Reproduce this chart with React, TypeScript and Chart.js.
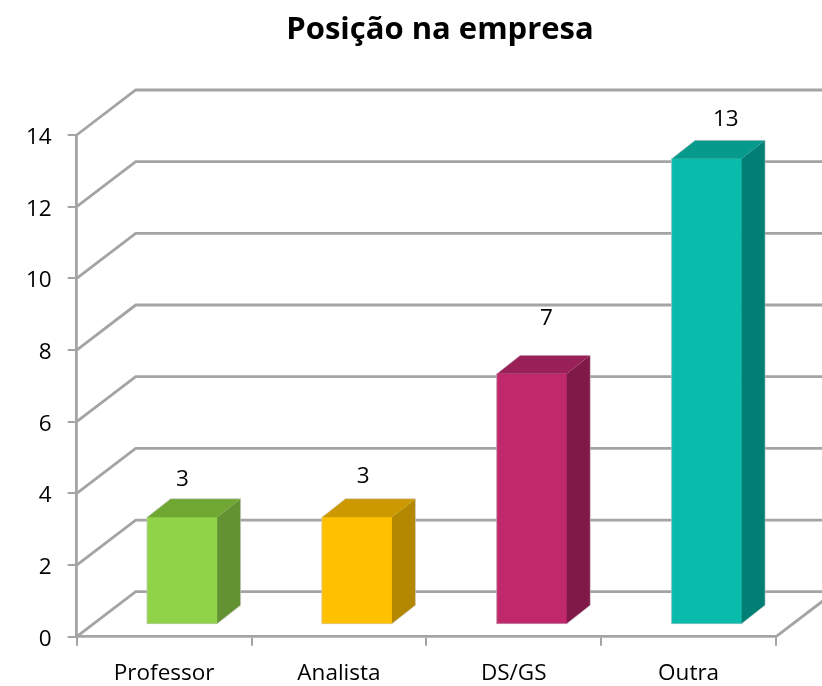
import React, { useEffect, useRef } from "react";
import { Chart, registerables } from "chart.js";

Chart.register(...registerables);

const chartTitle = "Posição na empresa";
const categories = ["Professor", "Analista", "DS/GS", "Outra"];
const seriesValues = [3, 3, 7, 13];
const frontColors = ["#90D248", "#FFC000", "#C0286C", "#09BBAB"];
const topColors = ["#70A632", "#CC9A00", "#9A2058", "#069A8C"];
const sideColors = ["#629232", "#B38700", "#801848", "#017F74"];
const yMax = 14;
const yStep = 2;

// 3D look of the Excel chart (pixels)
const WALL_DX = 59;
const WALL_DY = -45;
const BAR_SHIFT_X = 18;
const BAR_SHIFT_Y = -12;
const BAR_DX = 23.5;
const BAR_DY = -18.5;
const LABEL_NUDGE_X = [0.2, 6.2, 14.7, 19.2];
const LABEL_NUDGE_Y = [-37.2, -40.2, -55.7, -39.7];
const GRID = "#A4A4A4";
const FONT = "'Open Sans', sans-serif";

const wallPlugin = {
  id: "wall3d",
  beforeDatasetsDraw(chart: any) {
    const { ctx, scales, chartArea, width } = chart;
    const y = scales.y;
    ctx.save();
    ctx.strokeStyle = GRID;
    ctx.lineWidth = 2.8;
    for (let v = 0; v <= yMax; v += yStep) {
      const py = y.getPixelForValue(v);
      ctx.beginPath();
      ctx.moveTo(chartArea.left, py);
      ctx.lineTo(chartArea.left + WALL_DX, py + WALL_DY);
      ctx.lineTo(width, py + WALL_DY);
      ctx.stroke();
    }
    const floorY = y.getPixelForValue(0);
    ctx.beginPath();
    ctx.moveTo(chartArea.right, floorY);
    ctx.lineTo(chartArea.right + WALL_DX, floorY + WALL_DY);
    ctx.stroke();
    ctx.restore();
  },
};

const bar3dPlugin = {
  id: "bar3d",
  beforeDatasetDraw(chart: any) {
    chart.ctx.save();
    chart.ctx.translate(BAR_SHIFT_X, BAR_SHIFT_Y);
  },
  afterDatasetDraw(chart: any, args: any) {
    const { ctx } = chart;
    args.meta.data.forEach((bar: any, i: number) => {
      const l = bar.x - bar.width / 2;
      const r = bar.x + bar.width / 2;
      const t = bar.y;
      const b = bar.base;
      ctx.fillStyle = topColors[i];
      ctx.beginPath();
      ctx.moveTo(l, t);
      ctx.lineTo(l + BAR_DX, t + BAR_DY);
      ctx.lineTo(r + BAR_DX, t + BAR_DY);
      ctx.lineTo(r, t);
      ctx.closePath();
      ctx.fill();
      ctx.fillStyle = sideColors[i];
      ctx.beginPath();
      ctx.moveTo(r, t);
      ctx.lineTo(r + BAR_DX, t + BAR_DY);
      ctx.lineTo(r + BAR_DX, b + BAR_DY);
      ctx.lineTo(r, b);
      ctx.closePath();
      ctx.fill();
      ctx.strokeStyle = "rgba(205,205,205,0.6)";
      ctx.lineWidth = 1;
      ctx.beginPath();
      ctx.moveTo(l, b);
      ctx.lineTo(l, t);
      ctx.lineTo(l + BAR_DX, t + BAR_DY);
      ctx.lineTo(r + BAR_DX, t + BAR_DY);
      ctx.lineTo(r + BAR_DX, b + BAR_DY);
      ctx.lineTo(r, b);
      ctx.closePath();
      ctx.stroke();
    });
    ctx.restore();
    ctx.save();
    ctx.fillStyle = "#000";
    ctx.font = `22.5px ${FONT}`;
    ctx.textAlign = "center";
    ctx.textBaseline = "middle";
    args.meta.data.forEach((bar: any, i: number) => {
      ctx.fillText(
        String(seriesValues[i]),
        bar.x + BAR_SHIFT_X + LABEL_NUDGE_X[i],
        bar.y + BAR_SHIFT_Y + LABEL_NUDGE_Y[i]
      );
    });
    ctx.restore();
  },
};

const titlePlacement = {
  id: "titlePlacement",
  afterLayout(chart: any) {
    if (chart.titleBlock) {
      chart.titleBlock.left = 58;
      chart.titleBlock.right = 822;
    }
  },
};

export default function App() {
  const ref = useRef<HTMLCanvasElement>(null);
  useEffect(() => {
    const chart = new Chart(ref.current as HTMLCanvasElement, {
      type: "bar",
      data: {
        labels: categories,
        datasets: [
          {
            label: chartTitle,
            data: seriesValues,
            backgroundColor: frontColors,
            borderWidth: 0,
            barThickness: 70,
            clip: false,
          } as any,
        ],
      },
      plugins: [wallPlugin, bar3dPlugin, titlePlacement],
      options: {
        responsive: false,
        animation: false,
        layout: { padding: { left: 0, right: 46, top: 0, bottom: 0 } },
        plugins: {
          legend: { display: false },
          tooltip: { enabled: false },
          title: {
            display: true,
            text: chartTitle,
            color: "#000",
            font: { family: FONT, size: 31, weight: "bold" },
            padding: { top: 11.2, bottom: 86.6 },
          },
        },
        scales: {
          x: {
            afterFit: (s: any) => {
              s.height = 49.3;
            },
            border: { color: GRID, width: 2.8 },
            grid: {
              drawOnChartArea: false,
              color: GRID,
              lineWidth: 2,
              tickLength: 9,
            },
            ticks: {
              color: "#000",
              font: { family: FONT, size: 22.5 },
              padding: 14,
              maxRotation: 0,
            },
          },
          y: {
            min: 0,
            max: yMax,
            afterFit: (s: any) => {
              s.width = 76.7;
            },
            border: { color: GRID, width: 2.8 },
            grid: {
              drawOnChartArea: false,
              color: GRID,
              lineWidth: 2,
              tickLength: 9,
            },
            ticks: {
              stepSize: yStep,
              color: "#000",
              font: { family: FONT, size: 22.5 },
              padding: 16,
              labelOffset: 2.5,
            },
          },
        },
      },
    } as any);
    return () => chart.destroy();
  }, []);
  return (
    <canvas
      ref={ref}
      width={822}
      height={686}
      style={{ position: "absolute", left: 0, top: 0, display: "block" }}
    />
  );
}
